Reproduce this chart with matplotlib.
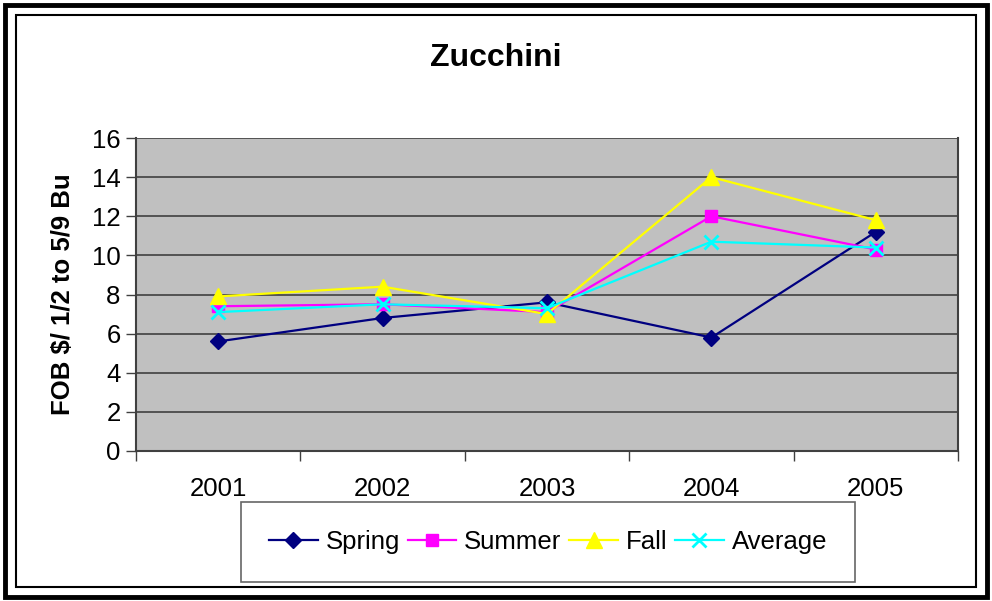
import matplotlib as mpl
mpl.use('Agg')
import matplotlib.pyplot as plt
from matplotlib.patches import Rectangle

years = ['2001', '2002', '2003', '2004', '2005']
spring = [5.6, 6.8, 7.6, 5.8, 11.2]
summer = [7.4, 7.5, 7.1, 12.0, 10.3]
fall = [7.9, 8.4, 7.0, 14.0, 11.8]
average = [7.1, 7.5, 7.3, 10.7, 10.4]
y_ticks = [0, 2, 4, 6, 8, 10, 12, 14, 16]

plt.rcParams['font.family'] = ['Liberation Sans', 'DejaVu Sans']

fig = plt.figure(figsize=(9.92, 6.01), dpi=100)
ax = fig.add_axes([136 / 992, 1 - 451 / 601, (958 - 136) / 992, (451 - 138) / 601])
ax.set_facecolor('#C0C0C0')

x = list(range(len(years)))
series = [
  ('Spring', spring, '#000080', 'D', 8),
  ('Summer', summer, '#FF00FF', 's', 8.5),
  ('Fall', fall, '#FFFF00', '^', 11),
  ('Average', average, '#00FFFF', 'x', 10),
]
for name, vals, color, marker, ms in series:
  ax.plot(x, vals, color=color, marker=marker, markersize=ms, linewidth=1.6,
          markeredgewidth=2 if marker == 'x' else 1, markeredgecolor=color, label=name, zorder=3)

ax.set_ylim(0, 16)
ax.set_yticks(y_ticks)
ax.yaxis.grid(True, color='#404040', linewidth=1.2)
ax.set_axisbelow(True)
ax.set_xlim(-0.5, len(years) - 0.5)
ax.set_xticks(x)
ax.set_xticklabels(years)
ax.set_xticks([i - 0.5 for i in range(len(years) + 1)], minor=True)
ax.tick_params(axis='x', which='major', length=0, pad=19, labelsize=18.5)
ax.tick_params(axis='x', which='minor', length=7, width=1, color='#404040', direction='out')
ax.tick_params(axis='y', length=7, width=1, color='#404040', labelsize=18.5, pad=4)
for side in ['left', 'bottom', 'right']:
  ax.spines[side].set_color('#404040')
  ax.spines[side].set_linewidth(1.5)
ax.spines['top'].set_visible(False)

ax.set_ylabel('FOB $/ 1/2 to 5/9 Bu', fontsize=18.5, fontweight='bold', labelpad=12)
fig.text(0.5, 1 - 58 / 601, 'Zucchini', ha='center', va='center', fontsize=23, fontweight='bold')

leg = fig.legend(loc='center', bbox_to_anchor=(548 / 992, 1 - 542 / 601), ncol=4, fontsize=18.5,
                 frameon=True, fancybox=False, handlelength=1.9, handletextpad=0.3,
                 columnspacing=0.3, borderpad=1.1, borderaxespad=0)
leg.get_frame().set_edgecolor('#404040')
leg.get_frame().set_linewidth(1.2)

# outer chart borders
fig.patches.append(Rectangle((5 / 992, 4 / 601), 982 / 992, 592 / 601, transform=fig.transFigure,
                             fill=False, edgecolor='black', linewidth=3.5))
fig.patches.append(Rectangle((16 / 992, 14 / 601), 960 / 992, 572 / 601, transform=fig.transFigure,
                             fill=False, edgecolor='black', linewidth=1.5))

fig.savefig('out.png', dpi=100)
